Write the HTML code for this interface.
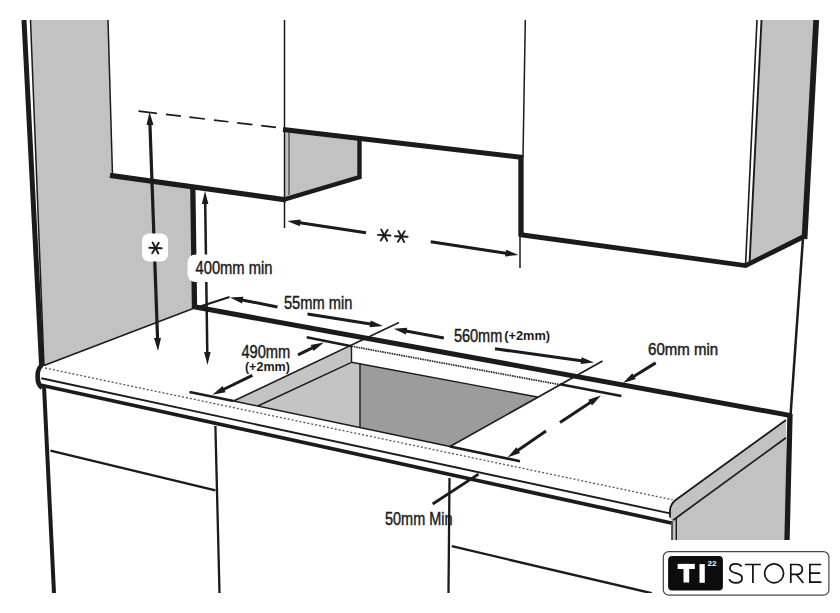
<!DOCTYPE html>
<html><head><meta charset="utf-8"><style>html,body{margin:0;padding:0;background:#fff;}svg{display:block;}</style></head>
<body>
<svg width="840" height="613" viewBox="0 0 840 613">
<rect width="840" height="613" fill="#fff"/>
<defs><clipPath id="c"><rect x="0" y="20" width="840" height="573"/></clipPath></defs>
<g clip-path="url(#c)">
<polygon points="30.5,20.0 108.0,20.0 112.5,175.5 193.0,186.5 194.5,308.0 44.0,366.0" fill="#c2c2c2" stroke="none" stroke-width="0" stroke-linejoin="round"/>
<polygon points="285.0,130.0 359.0,139.5 359.0,177.0 285.0,199.0" fill="#c2c2c2" stroke="none" stroke-width="0" stroke-linejoin="round"/>
<polygon points="761.5,20.0 815.0,20.0 804.0,237.5 749.5,264.5" fill="#c2c2c2" stroke="none" stroke-width="0" stroke-linejoin="round"/>
<path d="M786,420 L675,500.5 Q670.5,504.5 670,510 L670,518 L672,522 L672,540 L786,540 Z" fill="#c2c2c2"/>
<polygon points="233.6,401.0 351.5,346.2 351.5,362.3 257.8,406.0" fill="#c4c4c4" stroke="none" stroke-width="0" stroke-linejoin="round"/>
<polygon points="257.8,406.0 351.5,362.3 360.0,363.8 360.0,427.5" fill="#c4c4c4" stroke="none" stroke-width="0" stroke-linejoin="round"/>
<polygon points="360.0,363.8 537.5,397.0 450.0,446.5 360.0,427.5" fill="#9c9c9c" stroke="none" stroke-width="0" stroke-linejoin="round"/>
<line x1="24.0" y1="20.0" x2="41.6" y2="366.0" stroke="#1b1b1b" stroke-width="5" stroke-linecap="butt"/>
<line x1="30.5" y1="20.0" x2="44.0" y2="366.0" stroke="#1b1b1b" stroke-width="1.5" stroke-linecap="butt"/>
<line x1="108.0" y1="20.0" x2="112.5" y2="175.5" stroke="#1b1b1b" stroke-width="1.5" stroke-linecap="butt"/>
<line x1="110.0" y1="175.3" x2="286.0" y2="199.8" stroke="#1b1b1b" stroke-width="5.3" stroke-linecap="butt"/>
<line x1="192.8" y1="186.0" x2="194.5" y2="308.0" stroke="#1b1b1b" stroke-width="5.3" stroke-linecap="butt"/>
<line x1="194.5" y1="308.0" x2="44.0" y2="365.5" stroke="#1b1b1b" stroke-width="1.5" stroke-linecap="butt"/>
<line x1="138.5" y1="111.1" x2="276.0" y2="127.4" stroke="#1b1b1b" stroke-width="1.7" stroke-linecap="butt" stroke-dasharray="18.6 9 15.1 8.6 15.6 9 14.6 8.8 15.4 8.8 15.3"/>
<line x1="284.5" y1="20.0" x2="284.5" y2="228.0" stroke="#1b1b1b" stroke-width="1.5" stroke-linecap="butt"/>
<line x1="283.0" y1="129.5" x2="523.0" y2="157.5" stroke="#1b1b1b" stroke-width="5" stroke-linecap="butt"/>
<polyline points="359.5,139.5 359.5,177.0 284.7,199.4" fill="none" stroke="#1b1b1b" stroke-width="4.4" stroke-linejoin="miter"/>
<line x1="289.0" y1="132.0" x2="289.0" y2="195.0" stroke="#1b1b1b" stroke-width="1" stroke-linecap="butt"/>
<line x1="525.3" y1="20.0" x2="523.0" y2="157.0" stroke="#1b1b1b" stroke-width="1.5" stroke-linecap="butt"/>
<line x1="521.0" y1="156.0" x2="521.0" y2="236.0" stroke="#1b1b1b" stroke-width="5.3" stroke-linecap="butt"/>
<line x1="520.0" y1="236.0" x2="520.0" y2="268.0" stroke="#1b1b1b" stroke-width="1.5" stroke-linecap="butt"/>
<polyline points="519.0,234.5 745.6,265.6 803.0,237.0" fill="none" stroke="#1b1b1b" stroke-width="4.8" stroke-linejoin="miter"/>
<line x1="816.2" y1="20.0" x2="804.5" y2="239.0" stroke="#1b1b1b" stroke-width="5.8" stroke-linecap="butt"/>
<line x1="757.0" y1="20.0" x2="745.5" y2="266.0" stroke="#1b1b1b" stroke-width="1.6" stroke-linecap="butt"/>
<line x1="761.5" y1="20.0" x2="749.5" y2="264.0" stroke="#1b1b1b" stroke-width="1.9" stroke-linecap="butt"/>
<line x1="803.0" y1="238.0" x2="790.5" y2="416.0" stroke="#1b1b1b" stroke-width="2.5" stroke-linecap="butt"/>
<line x1="790.0" y1="414.0" x2="787.0" y2="540.0" stroke="#1b1b1b" stroke-width="5.3" stroke-linecap="butt"/>
<line x1="194.0" y1="306.8" x2="791.0" y2="415.6" stroke="#1b1b1b" stroke-width="5" stroke-linecap="butt"/>
<line x1="45.0" y1="368.0" x2="672.6" y2="499.8" stroke="#555" stroke-width="1.3" stroke-linecap="butt" stroke-dasharray="2 2"/>
<line x1="41.3" y1="378.2" x2="670.0" y2="513.4" stroke="#1b1b1b" stroke-width="1.9" stroke-linecap="butt"/>
<line x1="41.3" y1="385.2" x2="671.4" y2="523.0" stroke="#1b1b1b" stroke-width="3.7" stroke-linecap="butt"/>
<path d="M42,365 C38.5,367.5 37.6,371 37.6,376 C37.6,382 38.3,385 42,387.8" fill="none" stroke="#1b1b1b" stroke-width="4.6"/>
<path d="M786,420 L675,500.5 Q670.5,504.5 670,510 L670,517.4" fill="none" stroke="#1b1b1b" stroke-width="1.8"/>
<line x1="786.0" y1="437.7" x2="673.0" y2="520.2" stroke="#1b1b1b" stroke-width="1.7" stroke-linecap="butt"/>
<line x1="672.0" y1="521.0" x2="672.0" y2="540.0" stroke="#1b1b1b" stroke-width="1.4" stroke-linecap="butt"/>
<line x1="676.3" y1="518.0" x2="676.3" y2="540.0" stroke="#1b1b1b" stroke-width="1.4" stroke-linecap="butt"/>
<line x1="44.0" y1="386.0" x2="54.0" y2="593.0" stroke="#1b1b1b" stroke-width="4" stroke-linecap="butt"/>
<line x1="50.4" y1="450.6" x2="215.4" y2="490.4" stroke="#1b1b1b" stroke-width="2.4" stroke-linecap="butt"/>
<line x1="215.4" y1="426.0" x2="219.5" y2="593.0" stroke="#1b1b1b" stroke-width="2.3" stroke-linecap="butt"/>
<line x1="449.5" y1="478.0" x2="448.5" y2="593.0" stroke="#1b1b1b" stroke-width="2.3" stroke-linecap="butt"/>
<line x1="451.8" y1="546.2" x2="651.7" y2="593.2" stroke="#1b1b1b" stroke-width="2.4" stroke-linecap="butt"/>
<line x1="233.6" y1="401.0" x2="399.0" y2="322.5" stroke="#1b1b1b" stroke-width="1.6" stroke-linecap="butt"/>
<line x1="257.8" y1="406.0" x2="351.5" y2="362.3" stroke="#1b1b1b" stroke-width="1.4" stroke-linecap="butt"/>
<line x1="351.5" y1="346.2" x2="351.5" y2="362.3" stroke="#1b1b1b" stroke-width="1.4" stroke-linecap="butt"/>
<line x1="351.5" y1="346.2" x2="560.0" y2="384.7" stroke="#2a2a2a" stroke-width="1.7" stroke-linecap="butt" stroke-dasharray="1.6 0.8"/>
<line x1="351.5" y1="362.3" x2="537.5" y2="397.0" stroke="#1b1b1b" stroke-width="1.4" stroke-linecap="butt"/>
<line x1="360.0" y1="363.8" x2="360.0" y2="427.5" stroke="#1b1b1b" stroke-width="1.4" stroke-linecap="butt"/>
<line x1="602.5" y1="361.0" x2="450.0" y2="446.5" stroke="#1b1b1b" stroke-width="1.6" stroke-linecap="butt"/>
<line x1="233.6" y1="401.0" x2="450.0" y2="446.5" stroke="#1b1b1b" stroke-width="1.4" stroke-linecap="butt"/>
<line x1="306.7" y1="337.3" x2="351.5" y2="346.2" stroke="#1b1b1b" stroke-width="2.6" stroke-linecap="butt"/>
<line x1="560.0" y1="384.2" x2="621.4" y2="396.0" stroke="#1b1b1b" stroke-width="2.6" stroke-linecap="butt"/>
<line x1="189.5" y1="392.0" x2="233.6" y2="401.0" stroke="#1b1b1b" stroke-width="2.6" stroke-linecap="butt"/>
<line x1="450.0" y1="446.5" x2="520.0" y2="461.2" stroke="#1b1b1b" stroke-width="2.6" stroke-linecap="butt"/>
<polygon points="149.5,112.0 153.5,124.9 146.5,125.1" fill="#1b1b1b"/>
<polygon points="158.0,351.0 154.0,338.1 161.0,337.9" fill="#1b1b1b"/>
<line x1="149.9" y1="123.0" x2="157.6" y2="340.0" stroke="#1b1b1b" stroke-width="3.2" stroke-linecap="butt"/>
<polygon points="205.0,191.0 208.4,204.0 201.9,204.0" fill="#1b1b1b"/>
<polygon points="207.5,365.0 204.1,352.0 210.6,352.0" fill="#1b1b1b"/>
<line x1="205.2" y1="202.0" x2="207.3" y2="354.0" stroke="#1b1b1b" stroke-width="2.5" stroke-linecap="butt"/>
<polygon points="287.3,221.0 300.7,219.5 299.7,226.3" fill="#1b1b1b"/>
<line x1="298.2" y1="222.6" x2="366.0" y2="232.7" stroke="#1b1b1b" stroke-width="3.0" stroke-linecap="butt"/>
<polygon points="518.5,255.0 505.1,256.4 506.2,249.7" fill="#1b1b1b"/>
<line x1="430.7" y1="241.7" x2="507.6" y2="253.4" stroke="#1b1b1b" stroke-width="3.0" stroke-linecap="butt"/>
<line x1="197.0" y1="307.5" x2="229.5" y2="297.0" stroke="#1b1b1b" stroke-width="2.2" stroke-linecap="butt"/>
<polygon points="230.0,297.5 243.4,296.7 242.1,303.4" fill="#1b1b1b"/>
<line x1="240.8" y1="299.7" x2="277.5" y2="307.0" stroke="#1b1b1b" stroke-width="3.0" stroke-linecap="butt"/>
<polygon points="383.0,326.0 369.6,327.3 370.7,320.6" fill="#1b1b1b"/>
<line x1="307.5" y1="314.0" x2="372.1" y2="324.3" stroke="#1b1b1b" stroke-width="3.0" stroke-linecap="butt"/>
<polygon points="393.8,328.8 407.2,327.8 405.9,334.5" fill="#1b1b1b"/>
<line x1="404.6" y1="330.8" x2="443.8" y2="338.0" stroke="#1b1b1b" stroke-width="3.0" stroke-linecap="butt"/>
<polygon points="594.0,362.5 580.7,364.1 581.6,357.3" fill="#1b1b1b"/>
<line x1="495.0" y1="348.8" x2="583.1" y2="361.0" stroke="#1b1b1b" stroke-width="3.0" stroke-linecap="butt"/>
<polygon points="623.0,383.0 632.3,373.3 635.9,379.1" fill="#1b1b1b"/>
<line x1="655.7" y1="362.9" x2="632.4" y2="377.2" stroke="#1b1b1b" stroke-width="3.0" stroke-linecap="butt"/>
<polygon points="323.8,342.4 313.6,351.1 310.6,345.0" fill="#1b1b1b"/>
<line x1="298.0" y1="354.8" x2="313.9" y2="347.2" stroke="#1b1b1b" stroke-width="3.0" stroke-linecap="butt"/>
<polygon points="212.4,394.8 222.6,386.0 225.6,392.2" fill="#1b1b1b"/>
<line x1="252.4" y1="375.3" x2="222.3" y2="390.0" stroke="#1b1b1b" stroke-width="3.0" stroke-linecap="butt"/>
<polygon points="601.0,395.5 592.0,405.5 588.3,399.8" fill="#1b1b1b"/>
<line x1="560.0" y1="422.5" x2="591.8" y2="401.5" stroke="#1b1b1b" stroke-width="3.0" stroke-linecap="butt"/>
<polygon points="507.5,457.5 516.3,447.3 520.1,452.9" fill="#1b1b1b"/>
<line x1="546.0" y1="431.0" x2="516.6" y2="451.3" stroke="#1b1b1b" stroke-width="3.0" stroke-linecap="butt"/>
<line x1="432.7" y1="504.0" x2="478.5" y2="474.2" stroke="#1b1b1b" stroke-width="2.8" stroke-linecap="butt"/>
<rect x="142" y="233.5" width="26" height="28" rx="7" fill="#fff" stroke="none" stroke-width="0"/>
<rect x="187.5" y="254.5" width="89" height="27.5" rx="8" fill="#fff" stroke="none" stroke-width="0"/>
<line x1="149.3" y1="247.8" x2="161.7" y2="248.2" stroke="#1b1b1b" stroke-width="1.9" stroke-linecap="round"/>
<line x1="152.6" y1="242.5" x2="158.4" y2="253.5" stroke="#1b1b1b" stroke-width="1.9" stroke-linecap="round"/>
<line x1="158.8" y1="242.7" x2="152.2" y2="253.3" stroke="#1b1b1b" stroke-width="1.9" stroke-linecap="round"/>
<text x="195.5" y="274" font-family="Liberation Sans, sans-serif" font-size="17.6" font-weight="normal" fill="#1b1b1b" text-anchor="start" textLength="77" lengthAdjust="spacingAndGlyphs" stroke="#1b1b1b" stroke-width="0.45">400mm min</text>
<text x="283.9" y="309" font-family="Liberation Sans, sans-serif" font-size="18" font-weight="normal" fill="#1b1b1b" text-anchor="start" textLength="68.4" lengthAdjust="spacingAndGlyphs" stroke="#1b1b1b" stroke-width="0.45">55mm min</text>
<text x="453.9" y="341.7" font-family="Liberation Sans, sans-serif" font-size="17.6" font-weight="normal" fill="#1b1b1b" text-anchor="start" textLength="48.4" lengthAdjust="spacingAndGlyphs" stroke="#1b1b1b" stroke-width="0.45">560mm</text>
<text x="504.3" y="340.2" font-family="Liberation Sans, sans-serif" font-size="12.5" font-weight="bold" fill="#1b1b1b" text-anchor="start" textLength="45.8" lengthAdjust="spacingAndGlyphs">(+2mm)</text>
<text x="648.1" y="355.2" font-family="Liberation Sans, sans-serif" font-size="16.3" font-weight="normal" fill="#1b1b1b" text-anchor="start" textLength="70" lengthAdjust="spacingAndGlyphs" stroke="#1b1b1b" stroke-width="0.45">60mm min</text>
<text x="241.4" y="358.1" font-family="Liberation Sans, sans-serif" font-size="18.2" font-weight="normal" fill="#1b1b1b" text-anchor="start" textLength="48.9" lengthAdjust="spacingAndGlyphs" stroke="#1b1b1b" stroke-width="0.45">490mm</text>
<text x="244.9" y="370.6" font-family="Liberation Sans, sans-serif" font-size="12.8" font-weight="bold" fill="#1b1b1b" text-anchor="start" textLength="45" lengthAdjust="spacingAndGlyphs">(+2mm)</text>
<text x="385" y="525" font-family="Liberation Sans, sans-serif" font-size="18.3" font-weight="normal" fill="#1b1b1b" text-anchor="start" textLength="67.5" lengthAdjust="spacingAndGlyphs" stroke="#1b1b1b" stroke-width="0.45">50mm Min</text>
<line x1="377.9" y1="234.9" x2="390.5" y2="235.5" stroke="#1b1b1b" stroke-width="1.9" stroke-linecap="round"/>
<line x1="381.3" y1="229.6" x2="387.1" y2="240.8" stroke="#1b1b1b" stroke-width="1.9" stroke-linecap="round"/>
<line x1="387.6" y1="229.9" x2="380.8" y2="240.5" stroke="#1b1b1b" stroke-width="1.9" stroke-linecap="round"/>
<line x1="395.0" y1="236.2" x2="407.6" y2="236.8" stroke="#1b1b1b" stroke-width="1.9" stroke-linecap="round"/>
<line x1="398.4" y1="230.9" x2="404.2" y2="242.1" stroke="#1b1b1b" stroke-width="1.9" stroke-linecap="round"/>
<line x1="404.7" y1="231.2" x2="397.9" y2="241.8" stroke="#1b1b1b" stroke-width="1.9" stroke-linecap="round"/>
</g>

<rect x="656" y="541" width="184" height="72" fill="#fff"/>
<rect x="663.3" y="551.6" width="165.6" height="43.6" rx="5.5" fill="#fff" stroke="#444" stroke-width="1.2"/>
<rect x="668.1" y="556.1" width="54.8" height="34.3" rx="4" fill="#0d0d0d"/>
<rect x="677.6" y="563.9" width="17.2" height="5.1" fill="#fff"/>
<rect x="683.5" y="563.9" width="5.7" height="18.6" fill="#fff"/>
<rect x="699.5" y="564.1" width="5.3" height="18.7" fill="#fff"/>
<text x="707.4" y="565.8" font-family="Liberation Sans, sans-serif" font-size="7.6" font-weight="bold" fill="#fff" textLength="9" lengthAdjust="spacingAndGlyphs">22</text>
<g fill="none" stroke="#111" stroke-width="1.7">
<path d="M741.6,566.6 C740.2,564.7 738.2,563.8 735.8,563.8 C732.1,563.8 729.9,565.8 729.9,568.4 C729.9,574.8 742.1,571.4 742.1,577.9 C742.1,581 739.5,582.8 735.8,582.8 C732.7,582.8 730.4,581.4 729.1,579.2"/>
<path d="M744.9,564.5 H760.9 M752.9,564.5 V583"/>
<ellipse cx="774.1" cy="573.3" rx="9.5" ry="9.5"/>
<path d="M790.8,583 V564.5 H796.6 C800.3,564.5 802.3,566.6 802.3,569.4 C802.3,572.3 800.3,574.3 796.6,574.3 H790.8 M796.2,574.3 L803.4,583"/>
<path d="M821.2,564.5 H809.9 V582.2 H821.4 M809.9,573.2 H820.2"/>
</g>

</svg>
</body></html>
